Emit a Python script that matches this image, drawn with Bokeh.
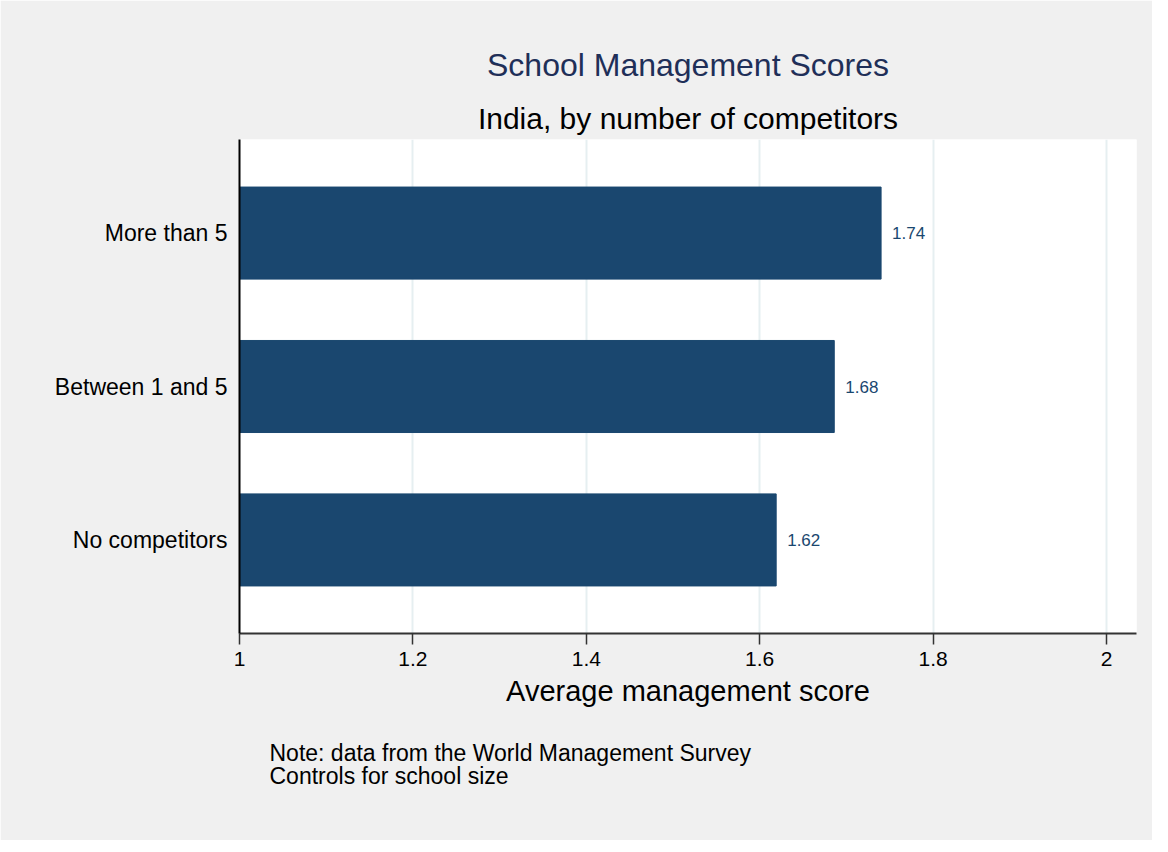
from bokeh.plotting import figure
from bokeh.models import Range1d, FixedTicker, Title
from bokeh.core.properties import value
from bokeh.embed import file_html
from bokeh.resources import INLINE

categories = ["No competitors", "Between 1 and 5", "More than 5"]
scores = [1.619, 1.686, 1.740]
score_labels = ["1.62", "1.68", "1.74"]
x_ticks = [1.0, 1.2, 1.4, 1.6, 1.8, 2.0]
x_tick_labels = ["1", "1.2", "1.4", "1.6", "1.8", "2"]

title_text = "School Management Scores"
subtitle_text = "India, by number of competitors"
xlabel_text = "Average management score"
note_lines = ["Note: data from the World Management Survey", "Controls for school size"]

FONT = "Liberation Sans"
BAR = "#1a476f"
BG = "#f0f0f0"

pos = list(range(1, len(categories) + 1))

p = figure(width=1152, height=840, output_backend="svg", toolbar_location=None,
           x_range=Range1d(1.0, 2.0346), y_range=Range1d(0.39, 3.61),
           min_border_left=239, min_border_right=16, min_border_top=139,
           min_border_bottom=207)
p.background_fill_color = "white"
p.border_fill_color = BG
p.outline_line_color = None

p.hbar(y=pos, left=1.0, right=scores, height=0.6, fill_color=BAR, line_color=BAR)
p.text(x=scores, y=pos, text=score_labels, x_offset=11, text_baseline="middle",
       text_align="left", text_font=value(FONT), text_font_size="17px", text_color=BAR)

# x axis
p.xaxis.ticker = FixedTicker(ticks=x_ticks)
p.xaxis.major_label_overrides = {t: l for t, l in zip(x_ticks, x_tick_labels)}
p.xaxis.major_label_text_font = FONT
p.xaxis.major_label_text_font_size = "21px"
p.xaxis.major_label_text_color = "black"
p.xaxis.major_tick_out = 11
p.xaxis.major_tick_in = 0
p.xaxis.minor_tick_out = 0
p.xaxis.minor_tick_in = 0
p.xaxis.major_tick_line_color = "#333333"
p.xaxis.major_tick_line_width = 1.5
p.xaxis.axis_line_color = "#333333"
p.xaxis.axis_line_width = 2
p.xaxis.major_label_standoff = 7
p.xaxis.axis_label = xlabel_text
p.xaxis.axis_label_text_font = FONT
p.xaxis.axis_label_text_font_size = "29px"
p.xaxis.axis_label_text_font_style = "normal"
p.xaxis.axis_label_text_color = "black"
p.xaxis.axis_label_standoff = 6

# y axis
p.yaxis.ticker = FixedTicker(ticks=pos)
p.yaxis.major_label_overrides = {i: c for i, c in zip(pos, categories)}
p.yaxis.major_label_text_font = FONT
p.yaxis.major_label_text_font_size = "23px"
p.yaxis.major_label_text_color = "black"
p.yaxis.major_tick_out = 0
p.yaxis.major_tick_in = 0
p.yaxis.minor_tick_out = 0
p.yaxis.minor_tick_in = 0
p.yaxis.axis_line_color = "black"
p.yaxis.axis_line_width = 2
p.yaxis.major_label_standoff = 12

p.ygrid.grid_line_color = None
p.xgrid.ticker = FixedTicker(ticks=x_ticks[1:])
p.xgrid.grid_line_color = "#e6eff1"
p.xgrid.grid_line_width = 2

# titles: main title outermost, subtitle next to the frame
p.title = Title(text=title_text, align="center", text_font=FONT, text_font_size="32px",
                text_font_style="normal", text_color="#1f2f58", standoff=23)
p.add_layout(Title(text=subtitle_text, align="center", text_font=FONT, text_font_size="30px",
                   text_font_style="normal", text_color="black", standoff=10), "above")

# note below the axis (two lines)
p.add_layout(Title(text="\n".join(note_lines), align="left", offset=30, text_font=FONT,
                   text_font_size="23px", text_font_style="normal", text_color="black",
                   text_line_height=0.91, standoff=56), "below")

open("out.html", "w").write(file_html(p, INLINE))
